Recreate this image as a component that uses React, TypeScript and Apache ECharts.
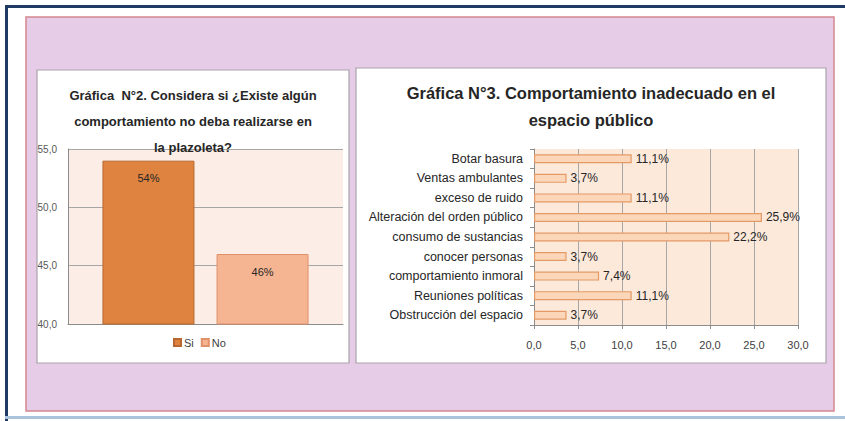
import React, { useEffect, useRef } from "react";
import * as echarts from "echarts";

const FONT = "'Liberation Sans', Arial, sans-serif";

const leftTitleLines = [
  "Gráfica  N°2. Considera si ¿Existe algún",
  "comportamiento no deba realizarse en",
  "la plazoleta?",
];
const rightTitleLines = [
  "Gráfica N°3. Comportamiento inadecuado en el",
  "espacio público",
];

const seriesNames = ["Si", "No"];
const siValues = [54];
const noValues = [46];
const leftCategories = [""];

const behaviours = [
  "Botar basura",
  "Ventas ambulantes",
  "exceso de ruido",
  "Alteración del orden público",
  "consumo de sustancias",
  "conocer personas",
  "comportamiento inmoral",
  "Reuniones políticas",
  "Obstrucción del espacio",
];
const behaviourValues = [11.1, 3.7, 11.1, 25.9, 22.2, 3.7, 7.4, 11.1, 3.7];

const comma1 = (v: number) => v.toFixed(1).replace(".", ",");

export default function App() {
  const ref = useRef<HTMLDivElement>(null);
  useEffect(() => {
    if (!ref.current) return;
    const chart = echarts.init(ref.current, undefined, { renderer: "svg" });
    const titleText = (lines: string[], cx: number, ys: number[], size: number) =>
      lines.map((t, i) => ({
        type: "text",
        z: 5,
        x: cx,
        y: ys[i],
        style: {
          text: t,
          fill: "#262626",
          fontSize: size,
          fontWeight: "bold",
          fontFamily: FONT,
          align: "center",
          verticalAlign: "middle",
        },
      }));
    chart.setOption({
      animation: false,
      backgroundColor: "#ffffff",
      graphic: [
        { type: "rect", z: -10, shape: { x: 5, y: 5, width: 845, height: 3 }, style: { fill: "#1F3B64" } },
        { type: "rect", z: -10, shape: { x: 5, y: 5, width: 3, height: 416 }, style: { fill: "#1F3B64" } },
        { type: "rect", z: -10, shape: { x: 5, y: 416, width: 845, height: 3 }, style: { fill: "#A9C4DC" } },
        {
          type: "rect",
          z: -10,
          shape: { x: 26, y: 17, width: 808, height: 394 },
          style: { fill: "#E6CCE6", stroke: "#D4868F", lineWidth: 1.5 },
        },
        {
          type: "rect",
          z: -9,
          shape: { x: 37, y: 70, width: 312, height: 293 },
          style: { fill: "#ffffff", stroke: "#A9A3AA", lineWidth: 1.2 },
        },
        {
          type: "rect",
          z: -9,
          shape: { x: 356, y: 68, width: 470, height: 295 },
          style: { fill: "#ffffff", stroke: "#A9A3AA", lineWidth: 1.2 },
        },
        ...titleText(leftTitleLines, 193, [95, 121, 147], 13),
        ...titleText(rightTitleLines, 591, [93, 120], 16.5),
      ],
      legend: {
        data: seriesNames,
        left: 168,
        top: 332,
        itemWidth: 7,
        itemHeight: 7,
        itemGap: 7,
        icon: "rect",
        textStyle: { fontSize: 11, color: "#404040", fontFamily: FONT, padding: [0, 0, 0, -2] },
      },
      grid: [
        {
          left: 68,
          top: 149,
          width: 275,
          height: 175,
          show: true,
          backgroundColor: "#FCEEE6",
          borderWidth: 0,
        },
        {
          left: 534,
          top: 149,
          width: 264,
          height: 176,
          show: true,
          backgroundColor: "#FCE9DA",
          borderWidth: 0,
        },
      ],
      xAxis: [
        {
          gridIndex: 0,
          type: "category",
          data: leftCategories,
          axisLine: { lineStyle: { color: "#8C8C8C" } },
          axisTick: { show: false },
          axisLabel: { show: false },
        },
        {
          gridIndex: 1,
          type: "value",
          min: 0,
          max: 30,
          interval: 5,
          axisLine: { show: true, lineStyle: { color: "#8C8C8C" } },
          axisTick: { show: true, length: 4, lineStyle: { color: "#8C8C8C" } },
          splitLine: { show: true, lineStyle: { color: "#A6A6A6", width: 1 } },
          axisLabel: {
            formatter: (v: number) => comma1(v),
            fontSize: 11,
            color: "#404040",
            fontFamily: FONT,
            margin: 14,
          },
        },
      ],
      yAxis: [
        {
          gridIndex: 0,
          type: "value",
          min: 40,
          max: 55,
          interval: 5,
          axisLine: { show: true, lineStyle: { color: "#8C8C8C" } },
          axisTick: { show: false },
          splitLine: { show: true, lineStyle: { color: "#A6A6A6" } },
          axisLabel: {
            formatter: (v: number) => comma1(v),
            fontSize: 10,
            color: "#595959",
            fontFamily: FONT,
            margin: 11,
          },
        },
        {
          gridIndex: 1,
          type: "category",
          inverse: true,
          data: behaviours,
          axisLine: { show: true, lineStyle: { color: "#8C8C8C" } },
          axisTick: { show: true, length: 4, lineStyle: { color: "#8C8C8C" } },
          splitLine: { show: false },
          axisLabel: {
            fontSize: 12.5,
            color: "#262626",
            fontFamily: FONT,
            margin: 11,
          },
        },
      ],
      series: [
        {
          name: seriesNames[0],
          type: "bar",
          xAxisIndex: 0,
          yAxisIndex: 0,
          data: siValues,
          barWidth: 92,
          barGap: "24%",
          itemStyle: { color: "#DE8340", borderColor: "#B8672E", borderWidth: 1 },
          label: {
            show: true,
            position: "insideTop",
            distance: 12,
            formatter: (p: any) => `${p.value}%`,
            fontSize: 11,
            color: "#262626",
            fontFamily: FONT,
          },
        },
        {
          name: seriesNames[1],
          type: "bar",
          xAxisIndex: 0,
          yAxisIndex: 0,
          data: noValues,
          barWidth: 92,
          barGap: "24%",
          itemStyle: { color: "#F6B592", borderColor: "#E0916A", borderWidth: 1 },
          label: {
            show: true,
            position: "insideTop",
            distance: 12,
            formatter: (p: any) => `${p.value}%`,
            fontSize: 11,
            color: "#262626",
            fontFamily: FONT,
          },
        },
        {
          name: "Comportamiento",
          type: "bar",
          xAxisIndex: 1,
          yAxisIndex: 1,
          data: behaviourValues,
          barWidth: 9,
          itemStyle: { color: "#FBD6B8", borderColor: "#E39A66", borderWidth: 1.2 },
          label: {
            show: true,
            position: "right",
            distance: 4,
            formatter: (p: any) => `${comma1(p.value)}%`,
            fontSize: 12,
            color: "#262626",
            fontFamily: FONT,
          },
        },
      ],
    });
    return () => chart.dispose();
  }, []);
  return (
    <div
      ref={ref}
      style={{ position: "fixed", left: 0, top: 0, width: 845, height: 421 }}
    />
  );
}
